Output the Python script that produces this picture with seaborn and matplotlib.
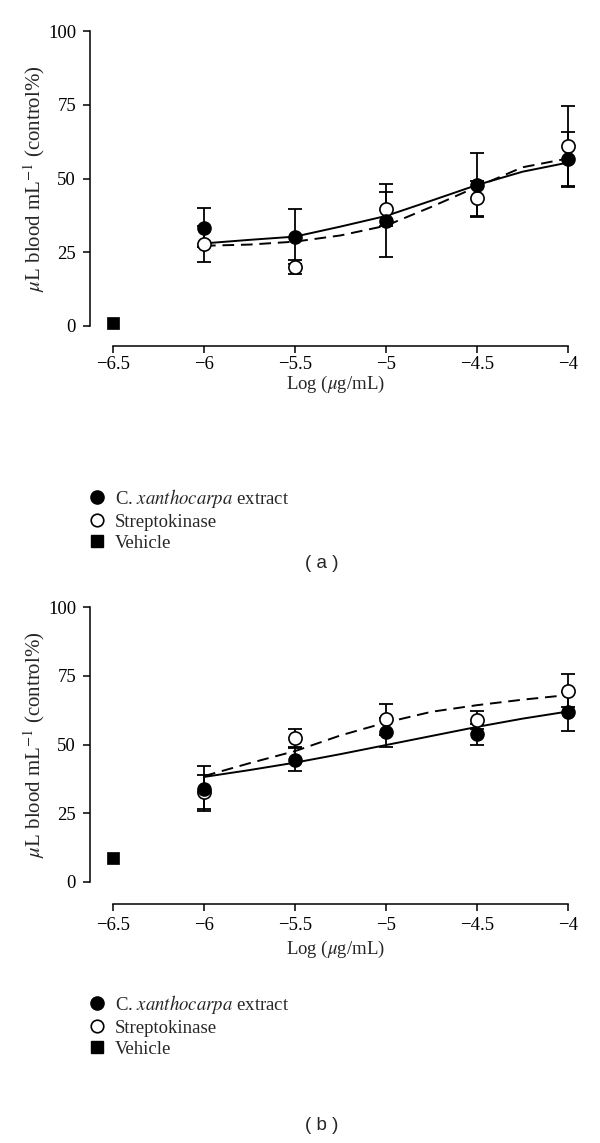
import numpy as np
import pandas as pd
import seaborn as sns
import matplotlib
matplotlib.use("Agg")
import matplotlib.pyplot as plt
from matplotlib.lines import Line2D

# ---------------- data ----------------
log_conc = [-6, -5.5, -5, -4.5, -4]
vehicle_x = -6.5
x_ticks = [-6.5, -6, -5.5, -5, -4.5, -4]
x_ticklabels = ["\u22126.5", "\u22126", "\u22125.5", "\u22125", "\u22124.5", "\u22124"]
y_ticks = [0, 25, 50, 75, 100]

# panel (a)
a_extract = [33.3, 30.3, 35.7, 47.8, 56.5]
a_extract_err = [6.6, 9.3, 12.3, 10.7, 9.3]
a_strepto = [27.8, 20.1, 39.7, 43.3, 61.0]
a_strepto_err = [6.2, 2.4, 5.7, 5.9, 13.6]
a_vehicle = 1.0

fit_x = [-6, -5.75, -5.5, -5.25, -5, -4.75, -4.5, -4.25, -4]
a_extract_fit = [28.0, 29.2, 30.3, 33.7, 37.3, 42.5, 47.8, 52.3, 55.4]
a_strepto_fit = [27.2, 27.6, 28.6, 30.7, 34.0, 40.4, 47.2, 53.8, 56.8]

# panel (b)
b_extract = [34.0, 44.5, 54.4, 53.7, 62.0]
b_extract_err = [8.1, 4.2, 5.4, 3.7, 7.0]
b_strepto = [32.7, 52.5, 59.1, 59.0, 69.5]
b_strepto_err = [6.3, 3.3, 5.5, 3.3, 6.0]
b_vehicle = 8.8
b_extract_fit = [38.2, 40.7, 43.4, 46.5, 49.8, 53.1, 56.4, 59.4, 62.0]
b_strepto_fit = [38.5, 43.2, 47.6, 53.3, 58.0, 61.9, 64.3, 66.3, 68.0]

legend_labels = ["C. $\\it{xanthocarpa}$ extract", "Streptokinase", "Vehicle"]
ylabel = "$\\mu$L blood mL$^{-1}$ (control%)"
xlabel = "Log ($\\mu$g/mL)"
captions = ["( a )", "( b )"]

# ---------------- style ----------------
sns.set_theme(style="ticks")
plt.rcParams["font.family"] = ["Liberation Serif", "DejaVu Serif"]
plt.rcParams["mathtext.fontset"] = "stix"
plt.rcParams["axes.linewidth"] = 1.1
plt.rcParams["xtick.major.width"] = 1.1
plt.rcParams["ytick.major.width"] = 1.1
plt.rcParams["xtick.major.size"] = 5
plt.rcParams["ytick.major.size"] = 5
plt.rcParams["xtick.color"] = "black"
plt.rcParams["ytick.color"] = "black"
plt.rcParams["axes.edgecolor"] = "black"

W, H = 600, 1143
fig = plt.figure(figsize=(W / 100, H / 100), dpi=100)

FS = 13.5
MS = 9.5


def px_axes(left, top, right, bottom):
    return fig.add_axes([left / W, 1 - bottom / H, (right - left) / W, (bottom - top) / H])


def draw_panel(top_px, zero_px, axis_px, ext, ext_err, stp, stp_err, veh, ext_fit, stp_fit,
               xpad, xlabel_top, legend_top, caption_y, caption):
    left, right = 90, 572
    ax = px_axes(left, top_px, right, axis_px)
    ppu_y = (zero_px - top_px) / 100.0
    ax.set_ylim(-(axis_px - zero_px) / ppu_y, 100)
    ppu_x = (568 - 113) / 2.5
    ax.set_xlim(-6.5 - (113 - left) / ppu_x, -4 + (right - 568) / ppu_x)

    df_fit = pd.DataFrame({"x": fit_x + fit_x,
                           "y": ext_fit + stp_fit,
                           "s": ["ext"] * len(fit_x) + ["stp"] * len(fit_x)})
    sns.lineplot(data=df_fit[df_fit.s == "ext"], x="x", y="y", color="black", lw=1.4,
                 ax=ax, legend=False, clip_on=False)
    sns.lineplot(data=df_fit[df_fit.s == "stp"], x="x", y="y", color="black", lw=1.4,
                 ax=ax, legend=False, clip_on=False, dashes=False)
    ax.lines[-1].set_dashes([6, 3.5])

    ax.errorbar(log_conc, stp, yerr=stp_err, fmt="none", ecolor="black", elinewidth=1.3,
                capsize=5, capthick=1.3, clip_on=False, zorder=3)
    ax.errorbar(log_conc, ext, yerr=ext_err, fmt="none", ecolor="black", elinewidth=1.3,
                capsize=5, capthick=1.3, clip_on=False, zorder=3)

    sns.scatterplot(x=log_conc, y=stp, marker="o", s=MS ** 2, facecolor="white",
                    edgecolor="black", linewidth=1.2, ax=ax, clip_on=False, zorder=4)
    sns.scatterplot(x=log_conc, y=ext, marker="o", s=MS ** 2, color="black",
                    edgecolor="black", linewidth=1.0, ax=ax, clip_on=False, zorder=5)
    sns.scatterplot(x=[vehicle_x], y=[veh], marker="s", s=(MS * 0.95) ** 2, color="black",
                    edgecolor="black", linewidth=0.5, ax=ax, clip_on=False, zorder=5)

    ax.spines["top"].set_visible(False)
    ax.spines["right"].set_visible(False)
    ax.spines["left"].set_bounds(0, 100)
    ax.spines["bottom"].set_bounds(-6.5, -4)
    ax.set_yticks(y_ticks)
    ax.set_yticklabels([str(v) for v in y_ticks])
    ax.set_xticks(x_ticks)
    ax.set_xticklabels(x_ticklabels)
    ax.tick_params(axis="both", labelsize=FS, direction="out")
    ax.tick_params(axis="y", pad=5)
    ax.tick_params(axis="x", pad=xpad)
    ax.set_xlabel(xlabel, fontsize=FS)
    ax.set_ylabel(ylabel, fontsize=15)
    hgt = axis_px - top_px
    ax.yaxis.set_label_coords((47 - left) / (right - left),
                              1 - ((zero_px + top_px) / 2 - top_px) / hgt)
    ax.xaxis.set_label_coords((335 - left) / (right - left), -(xlabel_top - axis_px) / hgt)

    handles = [
        Line2D([], [], ls="none", marker="o", ms=MS, mfc="black", mec="black"),
        Line2D([], [], ls="none", marker="o", ms=MS * 0.95, mfc="white", mec="black", mew=1.2),
        Line2D([], [], ls="none", marker="s", ms=MS * 0.95, mfc="black", mec="black"),
    ]
    ax.legend(handles, legend_labels, loc="upper left",
              bbox_to_anchor=(88 / W, 1 - legend_top / H), bbox_transform=fig.transFigure,
              frameon=False, fontsize=FS, handlelength=1.0, handletextpad=0.45,
              labelspacing=0.2, borderpad=0, borderaxespad=0)
    fig.text(322 / W, 1 - caption_y / H, caption, ha="center", va="center",
             fontsize=FS, family=["Liberation Sans", "DejaVu Sans"])
    return ax


draw_panel(31, 326, 346, a_extract, a_extract_err, a_strepto, a_strepto_err, a_vehicle,
           a_extract_fit, a_strepto_fit, xpad=2.5, xlabel_top=374,
           legend_top=487, caption_y=564, caption=captions[0])
draw_panel(607, 882, 904, b_extract, b_extract_err, b_strepto, b_strepto_err, b_vehicle,
           b_extract_fit, b_strepto_fit, xpad=4.5, xlabel_top=939,
           legend_top=993, caption_y=1125, caption=captions[1])

fig.savefig("out.png", dpi=100, facecolor="white")
